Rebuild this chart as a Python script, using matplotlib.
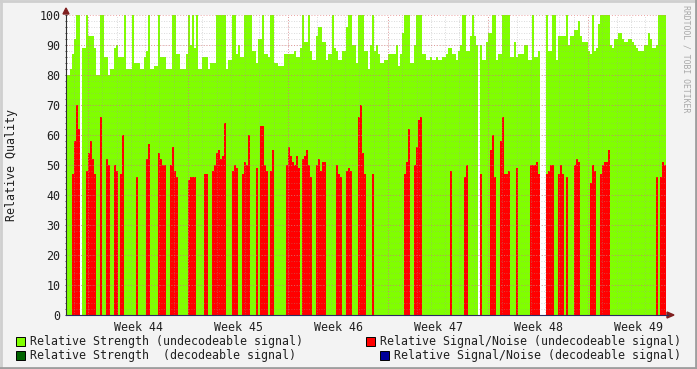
import numpy as np
import matplotlib
matplotlib.use("Agg")
import matplotlib.pyplot as plt
from matplotlib.patches import Rectangle, Polygon
from matplotlib.lines import Line2D

nan = np.nan

# Relative strength (undecodeable signal), one value per sample (50 samples per week)
forca = [
    80, 80, 82, 87, 92, 100, 100, nan, 89, 89, 100, 93, 93, 93, 89, 80, 80, 100, 100, 86,
    86, 80, 82, 82, 89, 90, 86, 86, 86, 100, 82, 82, 82, 100, 84, 84, 84, 82, 82, 86,
    88, 100, 82, 82, 83, 83, 100, 86, 86, 86, 82, 82, 82, 100, 100, 87, 87, 82, 82, 82,
    87, 100, 90, 100, 89, 100, 82, 82, 86, 86, 86, 82, 84, 84, 84, 100, 100, 100, 100, 100,
    82, 85, 85, 100, 100, 87, 90, 86, 86, 100, 100, 100, 100, 88, 88, 84, 92, 92, 100, 87,
    87, 86, 100, 100, 84, 84, 83, 83, 83, 87, 87, 87, 87, 87, 88, 86, 86, 89, 100, 91,
    91, 100, 88, 85, 85, 93, 96, 96, 91, 91, 85, 87, 87, 100, 89, 88, 85, 85, 88, 88,
    96, 100, 100, 90, 90, 84, 100, 100, 100, 88, 88, 82, 90, 100, 88, 90, 87, 84, 84, 85,
    85, 87, 87, 87, 87, 90, 83, 87, 94, 100, 100, 100, 84, 84, 90, 100, 100, 100, 87, 87,
    85, 85, 86, 85, 85, 86, 85, 85, 86, 86, 87, 89, 89, 87, 87, 85, 88, 90, 100, 100,
    88, 88, 93, 100, 93, 90, nan, 90, 85, 85, 91, 94, 94, 100, 100, 85, 87, 87, 100, 100,
    100, 100, 86, 86, 91, 86, 87, 87, 87, 90, 90, 85, 85, 100, 86, 86, 88, nan, nan, nan,
    100, 88, 88, 100, 100, 85, 93, 93, 93, 93, 100, 90, 93, 93, 95, 95, 98, 93, 91, 91,
    91, 88, 87, 100, 88, 89, 97, 100, 100, 100, 100, 100, 90, 89, 92, 92, 94, 94, 92, 91,
    91, 92, 92, 91, 90, 89, 88, 88, 88, 90, 90, 94, 92, 89, 89, 90, 100, 100, 100, 100,
]

# Relative signal/noise (undecodeable signal), 0 = no value
ruido = [
    0, 0, 0, 47, 58, 70, 62, 0, 0, 0, 48, 54, 58, 52, 47, 0, 0, 66, 0, 0,
    52, 50, 0, 0, 50, 48, 0, 47, 60, 0, 0, 0, 0, 0, 0, 46, 0, 0, 0, 0,
    52, 57, 0, 0, 0, 0, 54, 52, 50, 50, 0, 0, 50, 56, 48, 46, 0, 0, 0, 0,
    0, 45, 46, 46, 46, 0, 0, 0, 0, 47, 47, 0, 0, 48, 50, 54, 55, 52, 53, 64,
    0, 0, 0, 48, 50, 49, 0, 0, 47, 51, 50, 60, 0, 0, 0, 49, 0, 63, 63, 50,
    48, 0, 48, 55, 0, 0, 0, 0, 0, 0, 50, 56, 53, 51, 50, 53, 49, 0, 52, 53,
    55, 50, 46, 0, 0, 50, 52, 48, 51, 51, 0, 0, 0, 0, 0, 50, 47, 46, 0, 0,
    48, 49, 48, 0, 0, 0, 66, 70, 54, 47, 0, 0, 0, 47, 0, 0, 0, 0, 0, 0,
    0, 0, 0, 0, 0, 0, 0, 0, 0, 47, 51, 62, 0, 0, 50, 56, 65, 66, 0, 0,
    0, 0, 0, 0, 0, 0, 0, 0, 0, 0, 0, 0, 48, 0, 0, 0, 0, 0, 0, 46,
    50, 0, 0, 0, 0, 0, 0, 47, 0, 0, 0, 0, 55, 60, 46, 0, 0, 58, 66, 47,
    47, 48, 0, 0, 0, 49, 0, 0, 0, 0, 0, 0, 50, 50, 50, 51, 47, 0, 0, 0,
    47, 48, 50, 50, 0, 0, 47, 50, 47, 0, 46, 0, 0, 0, 50, 52, 51, 0, 0, 0,
    0, 0, 44, 50, 48, 0, 0, 47, 50, 51, 51, 55, 0, 0, 0, 0, 0, 0, 0, 0,
    0, 0, 0, 0, 0, 0, 0, 0, 0, 0, 0, 0, 0, 0, 0, 46, 0, 46, 51, 50,
]

semanas = ["Week 44", "Week 45", "Week 46", "Week 47", "Week 48", "Week 49"]
amostras_por_semana = 50
inicio_semana = 11  # first sample of week 44

W, H = 697, 369
fig = plt.figure(figsize=(W / 100, H / 100), dpi=100)
fig.patch.set_facecolor("#F3F3F3")
plt.rcParams["font.family"] = "DejaVu Sans Mono"

# moldura estilo rrdtool
fig.add_artist(Line2D([0, 1], [1 - 1 / H, 1 - 1 / H], color="#CFCFCF", lw=2))
fig.add_artist(Line2D([1 / W, 1 / W], [0, 1], color="#CFCFCF", lw=2))
fig.add_artist(Line2D([0, 1], [1 / H, 1 / H], color="#9E9E9E", lw=2))
fig.add_artist(Line2D([1 - 1 / W, 1 - 1 / W], [0, 1], color="#9E9E9E", lw=2))

ax = fig.add_axes([66 / W, (H - 315) / H, 600 / W, 300 / H])
ax.set_facecolor("white")

x = np.arange(len(forca))
ax.bar(x, forca, width=1.0, align="edge", color="#80FF00", linewidth=0, zorder=2)
ax.bar(x, ruido, width=1.0, align="edge", color="#FF0000", linewidth=0, zorder=3)

ax.set_xlim(0, len(forca))
ax.set_ylim(0, 100)

# grade
dia = amostras_por_semana / 7
for i in range(-2, 42):
    xd = inicio_semana + i * dia
    if 0 < xd < len(forca):
        ax.axvline(xd, color="#A0A0A0", lw=0.6, ls=(0, (1, 2)), alpha=0.5, zorder=4)
for v in range(2, 100, 2):
    ax.axhline(v, color="#A0A0A0", lw=0.6, ls=(0, (1, 2)), alpha=0.5, zorder=4)
for v in range(10, 101, 10):
    ax.axhline(v, color="#E07070", lw=0.7, ls=(0, (1, 2)), alpha=0.65, zorder=5)
for k in range(len(semanas)):
    ax.axvline(inicio_semana + k * amostras_por_semana, color="#E07070", lw=0.7,
               ls=(0, (1, 2)), alpha=0.65, zorder=5)

ax.set_yticks(range(0, 101, 10))
ax.set_yticks(range(0, 101, 2), minor=True)
ax.set_xticks([inicio_semana + k * amostras_por_semana + amostras_por_semana / 2
               for k in range(len(semanas))])
ax.set_xticklabels(semanas)
ax.tick_params(axis="both", labelsize=8.4, colors="#202020", length=2, width=0.6,
               direction="inout", pad=3)
ax.tick_params(axis="x", length=0, pad=4)
ax.tick_params(axis="y", which="minor", length=1.5, width=0.5, direction="inout")

for s in ["top", "right"]:
    ax.spines[s].set_visible(False)
ax.spines["left"].set_color("#303030")
ax.spines["bottom"].set_color("#2A2A60")
ax.spines["left"].set_linewidth(0.8)
ax.spines["bottom"].set_linewidth(0.8)
ax.spines["left"].set_zorder(6)
ax.spines["bottom"].set_zorder(6)

# setas dos eixos
fig.add_artist(Polygon([[63 / W, 1 - 14 / H], [69 / W, 1 - 14 / H], [66 / W, 1 - 8 / H]],
                       closed=True, color="#7F1F1F"))
fig.add_artist(Line2D([666 / W, 668 / W], [(H - 315) / H] * 2, color="#2A2A60", lw=0.8))
fig.add_artist(Polygon([[667 / W, (H - 312) / H], [667 / W, (H - 318) / H], [674 / W, (H - 315) / H]],
                       closed=True, color="#7F1F1F"))

fig.text(12 / W, 1 - 165 / H, "Relative Quality", rotation=90, ha="center", va="center",
         fontsize=8.4, color="#202020")
fig.text(686 / W, 1 - 5 / H, "RRDTOOL / TOBI OETIKER", rotation=270, ha="center", va="top",
         fontsize=5.9, color="#A8A8A8")

# legenda
legenda = [
    (16, 341, "#80FF00", "Relative Strength (undecodeable signal)"),
    (16, 355, "#006400", "Relative Strength  (decodeable signal)"),
    (366, 341, "#FF0000", "Relative Signal/Noise (undecodeable signal)"),
    (380, 355, "#000099", "Relative Signal/Noise (decodeable signal)"),
]
for bx, by, cor, texto in legenda:
    fig.add_artist(Rectangle((bx / W, 1 - (by + 4.5) / H), 9 / W, 9 / H, facecolor=cor,
                             edgecolor="black", linewidth=0.7))
    fig.text((bx + 14) / W, 1 - by / H, texto, ha="left", va="center", fontsize=8.4,
             color="#202020")

plt.savefig("out.png", dpi=100, facecolor=fig.get_facecolor())
